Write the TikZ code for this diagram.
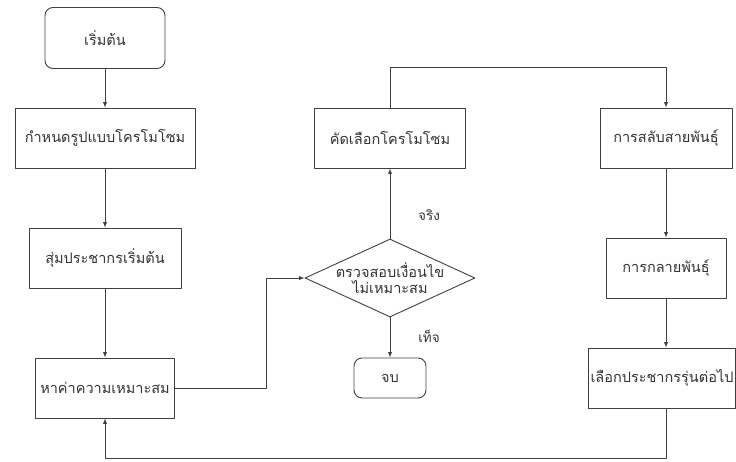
\documentclass[tikz,border=0pt]{standalone}
\usepackage{fontspec}
\newfontfamily\thaifont[Script=Thai]{Loma}
\usetikzlibrary{shapes.geometric}
\begin{document}
\begin{tikzpicture}[line cap = round, line join = round, x=1pt, y=-1pt]
	\tikzstyle{box}=[rectangle,draw=black!75,line width=0.9pt,minimum height=60pt,inner sep=2pt,text=black!80,font=\thaifont\fontsize{14.5}{17}\selectfont]
	\tikzstyle{term}=[box,rounded corners=8pt]
	\tikzstyle{cond}=[diamond,draw=black!75,line width=0.9pt,minimum width=170pt,minimum height=78pt,inner sep=0pt]
	\tikzstyle{arr}=[-latex,draw=black!75,line width=0.9pt]
	\tikzstyle{lbl}=[text=black!80,font=\thaifont\fontsize{13.5}{16}\selectfont]
	\useasboundingbox (0,0) rectangle (736,461);
	\node[term,minimum width=120pt,minimum height=61pt] (start) at (105,38) {เริ่มต้น};
	\foreach \n/\x/\y/\w/\t in {shape/105/138/180/กำหนดรูปแบบโครโมโซม, rand/105/258/152/สุ่มประชากรเริ่มต้น, fit/105/388/139/หาค่าความเหมาะสม, sel/390/138/151/คัดเลือกโครโมโซม, cross/666/138/132/การสลับสายพันธุ์, mut/666/268/120/การกลายพันธุ์, next/662/378/147/เลือกประชากรรุ่นต่อไป} {\node[box,minimum width=\w pt] (\n) at (\x,\y) {\t};}
	\node[cond,label={[align=center,text=black!80,font=\thaifont\fontsize{14.5}{16}\selectfont]center:ตรวจสอบเงื่อนไข\\ไม่เหมาะสม}] (check) at (390,278) {};
	\node[term,minimum width=72pt,minimum height=40pt] (stop) at (390,378) {จบ};
	\node[lbl] (yes) at (429,215) {จริง};
	\node[lbl] (no) at (429,336) {เท็จ};
	\foreach \a/\b in {start/shape, shape/rand, rand/fit, check/sel, check/stop, cross/mut} {\draw[arr] (\a) -- (\b);}
	\draw[arr] (mut) -- (mut |- next.north);
	\draw[arr] (fit.east) -- ++(91,0) |- (check.west);
	\draw[arr] (sel.north) -- ++(0,-40) -| (cross.north);
	\draw[arr] (next.south -| mut) -- ++(0,50) -| (fit.south);
\end{tikzpicture}
\end{document}
